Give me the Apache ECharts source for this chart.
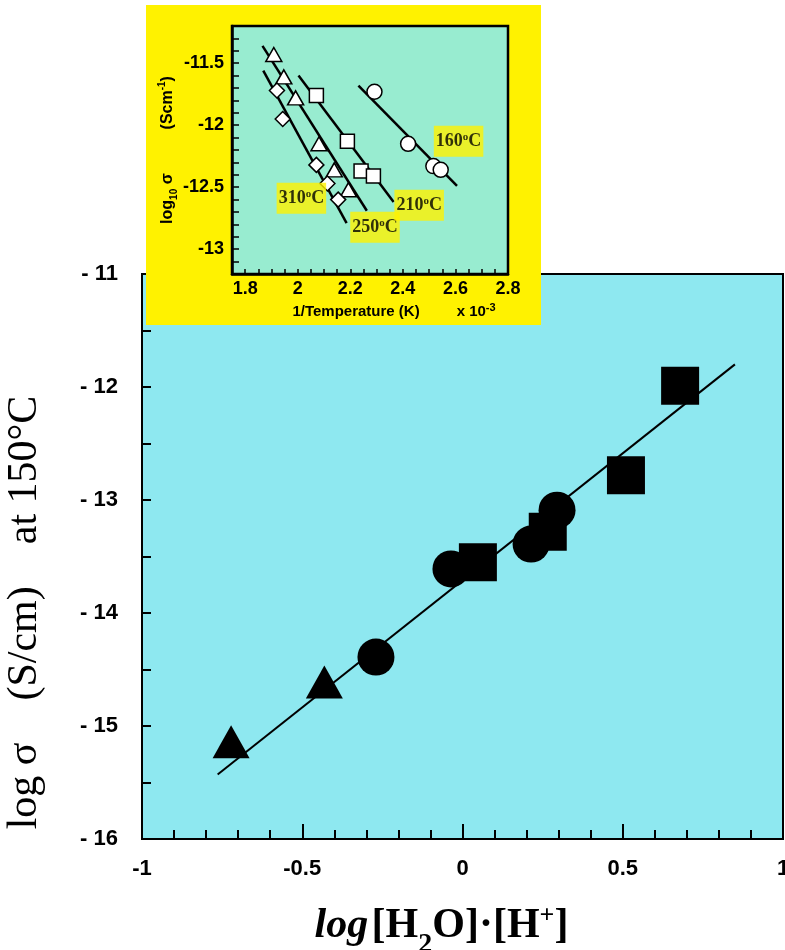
<!DOCTYPE html>
<html>
<head>
<meta charset="utf-8">
<script src="https://cdn.jsdelivr.net/npm/echarts@6/dist/echarts.min.js"></script>
<style>html,body{margin:0;padding:0;background:#fff}#c{width:785px;height:950px}</style>
</head>
<body>
<div id="c"></div>
<script>
// ---- main chart data ----
var mainTriX = [-0.722, -0.431];
var mainTriY = [-15.14, -14.61];
var mainCircX = [-0.270, -0.036, 0.214, 0.295];
var mainCircY = [-14.39, -13.61, -13.39, -13.09];
var mainSqX = [0.048, 0.266, 0.510, 0.679];
var mainSqY = [-13.55, -13.28, -12.78, -11.99];
var fitX = [-0.764, 0.850];
var fitY = [-15.43, -11.80];

// ---- inset data ----
var tri250X = [1.909, 1.947, 1.992, 2.081, 2.139, 2.193];
var tri250Y = [-11.43, -11.61, -11.78, -12.15, -12.36, -12.52];
var dia310X = [1.921, 1.943, 2.071, 2.113, 2.154];
var dia310Y = [-11.72, -11.95, -12.32, -12.47, -12.60];
var sq210X = [2.071, 2.189, 2.241, 2.288];
var sq210Y = [-11.76, -12.13, -12.37, -12.41];
var cir160X = [2.292, 2.420, 2.516, 2.544];
var cir160Y = [-11.73, -12.15, -12.33, -12.36];
var line310X = [1.869, 2.186], line310Y = [-11.56, -12.79];
var line250X = [1.866, 2.263], line250Y = [-11.36, -12.69];
var line210X = [2.003, 2.365], line210Y = [-11.60, -12.62];
var line160X = [2.231, 2.606], line160Y = [-11.68, -12.49];
var tempLabels = ['310', '250', '210', '160'];
var tempLabelX = [2.014, 2.294, 2.462, 2.612];
var tempLabelY = [-12.589, -12.823, -12.645, -12.129];

function pairs(xs, ys) { return xs.map(function (x, i) { return [x, ys[i]]; }); }

var chart = echarts.init(document.getElementById('c'));
var sans = 'Liberation Sans';
var serif = 'Liberation Serif';

function insetScatter(xs, ys, symbol, size) {
  return {
    type: 'scatter', xAxisIndex: 1, yAxisIndex: 1, z: 9,
    symbol: symbol, symbolSize: size,
    itemStyle: { color: '#ffffff', borderColor: '#000', borderWidth: 1.5, opacity: 1 },
    data: pairs(xs, ys), silent: true
  };
}
function insetLine(xs, ys) {
  return {
    type: 'line', xAxisIndex: 1, yAxisIndex: 1, z: 8, showSymbol: false, symbol: 'none',
    lineStyle: { color: '#000', width: 2.5 }, data: pairs(xs, ys), silent: true
  };
}
function mainScatter(xs, ys, symbol, size) {
  return {
    type: 'scatter', xAxisIndex: 0, yAxisIndex: 0, z: 3,
    symbol: symbol, symbolSize: size,
    itemStyle: { color: '#000', opacity: 1 },
    data: pairs(xs, ys), silent: true
  };
}

var option = {
  animation: false,
  backgroundColor: '#ffffff',
  graphic: {
    elements: [
      { type: 'rect', z: 5, shape: { x: 146, y: 5, width: 395, height: 320 }, style: { fill: '#fff200' } }
    ]
  },
  grid: [
    { left: 142, top: 274, right: 2, bottom: 111, show: true, backgroundColor: '#8ee8f0',
      borderColor: '#000', borderWidth: 2, z: 0, containLabel: false, outerBoundsMode: 'none' },
    { left: 232, top: 26, width: 276, height: 248, show: true, backgroundColor: '#98ecd0',
      borderColor: '#000', borderWidth: 2.5, z: 6, containLabel: false, outerBoundsMode: 'none' }
  ],
  xAxis: [
    {
      type: 'value', gridIndex: 0, min: -1, max: 1, interval: 0.5, z: 1,
      axisLine: { show: true, onZero: false, lineStyle: { color: '#000', width: 2 } },
      axisTick: { show: true, inside: true, length: 15, lineStyle: { color: '#000', width: 2 } },
      minorTick: { show: true, splitNumber: 5, length: 9, lineStyle: { color: '#000', width: 2 } },
      splitLine: { show: false },
      axisLabel: { fontFamily: sans, fontWeight: 'bold', fontSize: 22, color: '#000', margin: 19 },
      name: '{i|log} {b|[H}{sub|2}{b|O]·[H}{sup|+}{b|]}',
      nameLocation: 'middle', nameGap: 64,
      nameTextStyle: {
        padding: [0, 42, 0, 0],
        rich: {
          i: { fontFamily: serif, fontStyle: 'italic', fontWeight: 'bold', fontSize: 42, color: '#000', lineHeight: 46 },
          b: { fontFamily: serif, fontWeight: 'bold', fontSize: 42, color: '#000', lineHeight: 46 },
          sub: { fontFamily: serif, fontWeight: 'bold', fontSize: 28, color: '#000', verticalAlign: 'bottom', lineHeight: 28, padding: [0, 0, -10, 0] },
          sup: { fontFamily: serif, fontWeight: 'bold', fontSize: 26, color: '#000', verticalAlign: 'top', lineHeight: 26 }
        }
      }
    },
    {
      type: 'value', gridIndex: 1, min: 1.75, max: 2.8, interval: 0.05, z: 7,
      axisLine: { show: true, onZero: false, lineStyle: { color: '#000', width: 2.5 } },
      axisTick: { show: true, inside: true, length: 5, lineStyle: { color: '#000', width: 1.5 } },
      splitLine: { show: false },
      axisLabel: {
        fontFamily: sans, fontWeight: 'bold', fontSize: 18, color: '#000', margin: 6,
        showMinLabel: true, showMaxLabel: true, hideOverlap: false,
        formatter: function (v) {
          var k = v / 0.2;
          return Math.abs(k - Math.round(k)) < 1e-6 ? String(Math.round(v * 10) / 10) : '';
        }
      },
      name: '{t|1/Temperature (K)}{g|}{t|x 10}{p|-3}',
      nameLocation: 'middle', nameGap: 28,
      nameTextStyle: {
        padding: [0, 0, 0, 48],
        rich: {
          t: { fontFamily: sans, fontWeight: 'bold', fontSize: 15, color: '#000', lineHeight: 20 },
          g: { width: 37 },
          p: { fontFamily: sans, fontWeight: 'bold', fontSize: 11, color: '#000', verticalAlign: 'top', lineHeight: 11 }
        }
      }
    }
  ],
  yAxis: [
    {
      type: 'value', gridIndex: 0, min: -16, max: -11, interval: 1, z: 1,
      axisLine: { show: true, onZero: false, lineStyle: { color: '#000', width: 2 } },
      axisTick: { show: true, inside: true, length: 9, lineStyle: { color: '#000', width: 2 } },
      minorTick: { show: true, splitNumber: 2, length: 9, lineStyle: { color: '#000', width: 2 } },
      splitLine: { show: false },
      axisLabel: {
        fontFamily: sans, fontWeight: 'bold', fontSize: 22, color: '#000', margin: 24,
        formatter: function (v) { return v < 0 ? '- ' + Math.abs(v) : String(v); }
      },
      name: 'log σ    (S/cm)    at 150°C',
      nameLocation: 'middle', nameGap: 96,
      nameTextStyle: { fontFamily: serif, fontSize: 42, color: '#000', padding: [0, 112, 0, 0] }
    },
    {
      type: 'value', gridIndex: 1, min: -13.2, max: -11.2, interval: 0.1, z: 7,
      axisLine: { show: true, onZero: false, lineStyle: { color: '#000', width: 2.5 } },
      axisTick: { show: true, inside: true, length: 7, lineStyle: { color: '#000', width: 1.5 } },
      splitLine: { show: false },
      axisLabel: {
        fontFamily: sans, fontWeight: 'bold', fontSize: 18, color: '#000', margin: 8,
        formatter: function (v) {
          var k = v * 2;
          return Math.abs(k - Math.round(k)) < 1e-6 ? String(Math.round(v * 10) / 10) : '';
        }
      },
      name: '{b|log}{sub|10}{b| σ}{g|}{b|(Scm}{sup|-1}{b|)}',
      nameLocation: 'middle', nameGap: 51,
      nameTextStyle: {
        rich: {
          b: { fontFamily: sans, fontWeight: 'bold', fontSize: 16, color: '#000', lineHeight: 22 },
          sub: { fontFamily: sans, fontWeight: 'bold', fontSize: 10, color: '#000', verticalAlign: 'bottom', lineHeight: 12 },
          sup: { fontFamily: sans, fontWeight: 'bold', fontSize: 10, color: '#000', verticalAlign: 'top', lineHeight: 12 },
          g: { width: 44 }
        }
      }
    }
  ],
  series: [
    {
      type: 'line', xAxisIndex: 0, yAxisIndex: 0, z: 2, showSymbol: false, symbol: 'none',
      lineStyle: { color: '#000', width: 2 }, data: pairs(fitX, fitY), silent: true
    },
    mainScatter(mainTriX, mainTriY, 'triangle', [37, 33]),
    mainScatter(mainCircX, mainCircY, 'circle', 37),
    mainScatter(mainSqX, mainSqY, 'rect', 38),

    insetLine(line310X, line310Y),
    insetLine(line250X, line250Y),
    insetLine(line210X, line210Y),
    insetLine(line160X, line160Y),
    insetScatter(tri250X, tri250Y, 'triangle', [16, 14]),
    insetScatter(dia310X, dia310Y, 'diamond', [15, 15]),
    insetScatter(sq210X, sq210Y, 'rect', 14),
    insetScatter(cir160X, cir160Y, 'circle', 15),
    {
      type: 'scatter', xAxisIndex: 1, yAxisIndex: 1, z: 10, symbolSize: 0, silent: true,
      data: tempLabelX.map(function (x, i) { return { value: [x, tempLabelY[i]], name: tempLabels[i] }; }),
      label: {
        show: true, position: 'inside',
        formatter: function (p) { return '{a|' + p.name + '}{s|o}{a|C}'; },
        backgroundColor: '#fff200', padding: [6, 2, 5, 2],
        rich: {
          a: { fontFamily: serif, fontWeight: 'bold', fontSize: 18, color: '#000', lineHeight: 20 },
          s: { fontFamily: serif, fontWeight: 'bold', fontSize: 11, color: '#000', verticalAlign: 'top', lineHeight: 10 }
        }
      }
    }
  ]
};
chart.setOption(option);
</script>
</body>
</html>
